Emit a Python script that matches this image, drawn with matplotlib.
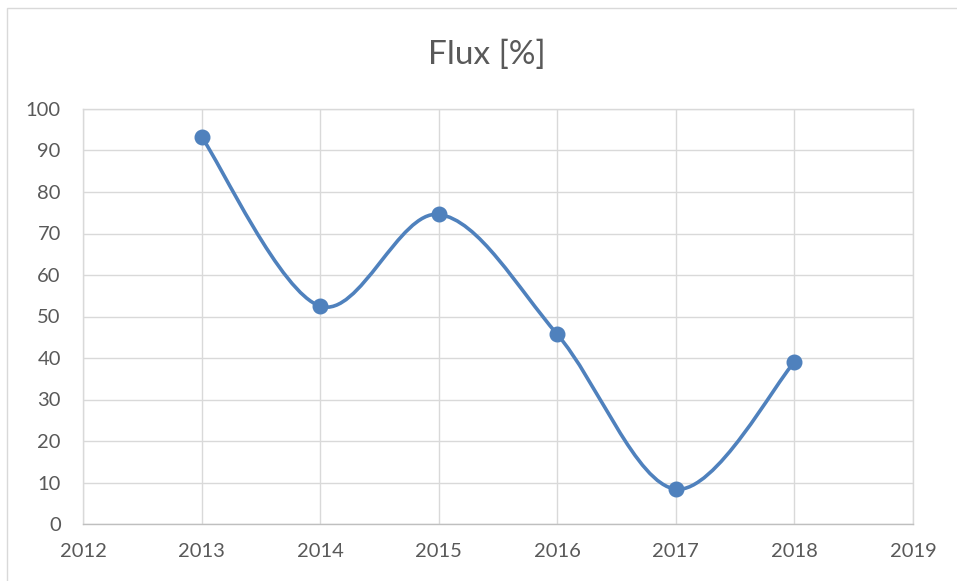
"""
Flux [%] per year, redrawn in the style of an Excel smooth-line scatter.
"""

import matplotlib
matplotlib.use("Agg")
import matplotlib.pyplot as plt
from matplotlib.path import Path
from matplotlib.patches import PathPatch, Rectangle
import numpy as np


YEARS = [2013, 2014, 2015, 2016, 2017, 2018]
FLUX = [93.3, 52.5, 74.6, 45.7, 8.4, 39.0]
TITLE = "Flux [%]"

LINE_COLOR = "#4F81BD"
GRID_COLOR = "#D9D9D9"
TEXT_COLOR = "#595959"


def smooth_path(xs, ys):
    """Bezier path through the points, like Excel's 'smoothed line'."""
    pts = np.column_stack([xs, ys]).astype(float)
    verts = [pts[0]]
    codes = [Path.MOVETO]
    n = len(pts)
    for i in range(n - 1):
        p0 = pts[i - 1] if i > 0 else pts[i]
        p1 = pts[i]
        p2 = pts[i + 1]
        p3 = pts[i + 2] if i + 2 < n else pts[i + 1]
        c1 = p1 + (p2 - p0) / 6.0
        c2 = p2 - (p3 - p1) / 6.0
        verts += [c1, c2, p2]
        codes += [Path.CURVE4] * 3
    return Path(verts, codes)


def main():
    plt.rcParams["font.family"] = ["Lato", "DejaVu Sans"]

    fig = plt.figure(figsize=(9.57, 5.81), dpi=100)
    ax = fig.add_axes([83 / 957, 57 / 581, 830 / 957, 415 / 581])

    # Chart border like the Excel chart area
    fig.patches.append(Rectangle((7 / 957, -0.1), 1.1, 1.086,
                                 transform=fig.transFigure, fill=False,
                                 edgecolor=GRID_COLOR, linewidth=1.0))

    ax.add_patch(PathPatch(smooth_path(YEARS, FLUX), facecolor="none",
                           edgecolor=LINE_COLOR, linewidth=2.6,
                           capstyle="round", zorder=3))
    ax.plot(YEARS, FLUX, linestyle="none", marker="o", markersize=10.5,
            color=LINE_COLOR, zorder=4)

    ax.set_xlim(2012, 2019)
    ax.set_ylim(0, 100)
    ax.set_xticks(range(2012, 2020))
    ax.set_yticks(range(0, 101, 10))

    ax.grid(True, color=GRID_COLOR, linewidth=1.0)
    ax.set_axisbelow(True)
    for side in ("left", "right", "top", "bottom"):
        ax.spines[side].set_color(GRID_COLOR)
        ax.spines[side].set_linewidth(1.0)
    ax.spines["bottom"].set_color("#BFBFBF")

    ax.tick_params(length=0, labelsize=14.5, labelcolor=TEXT_COLOR)
    ax.tick_params(axis="x", pad=14)
    ax.tick_params(axis="y", pad=16)

    fig.text(487 / 957, 1 - 55 / 581, TITLE, ha="center", va="center",
             fontsize=24, color=TEXT_COLOR)

    plt.savefig("out.png", dpi=100)
    plt.clf()


if __name__ == "__main__":
    main()
